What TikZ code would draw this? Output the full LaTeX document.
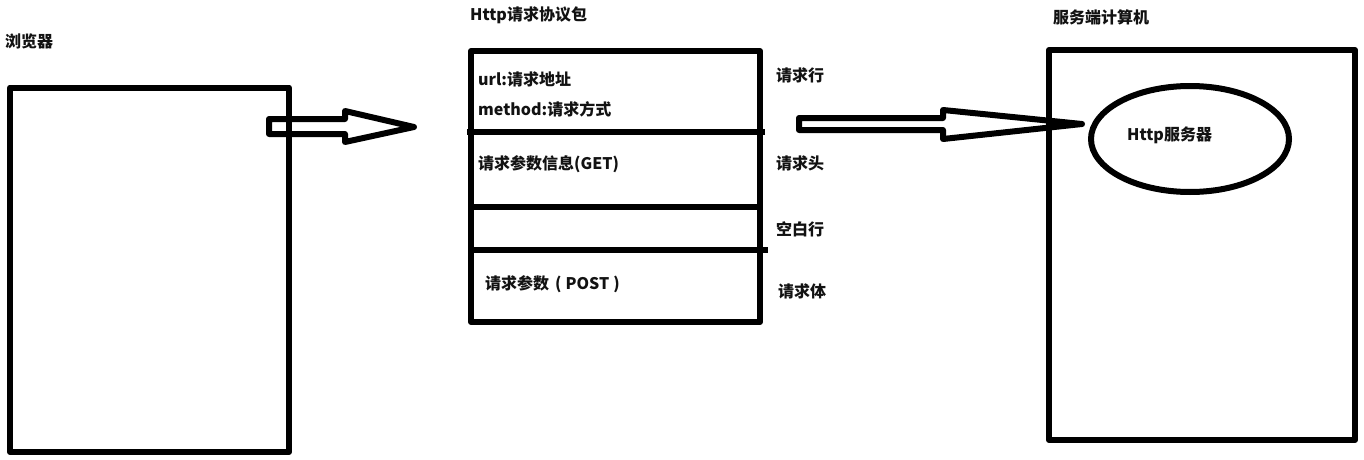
\documentclass[tikz,border=0pt]{standalone}
\usepackage{fontspec}
\newfontfamily\cjk{Noto Sans CJK SC}
\begin{document}
\begin{tikzpicture}[x=1pt,y=-1pt,
  thick line/.style={line width=6pt, line join=round, draw=black},
  lbl/.style={anchor=west, inner sep=0pt, font=\cjk\bfseries\fontsize{16}{18}\selectfont, text=black!93}]
\useasboundingbox[fill=white] (0,0) rectangle (1364,460);
% browser box
\draw[thick line] (10,87.5) rectangle (289,452);
\node[lbl] (browser) at (5,41) {浏览器};
% request packet box
\draw[thick line] (471,51) rectangle (760,322);
\coordinate (d1a) at (467,132); \coordinate (d1b) at (765,132);
\coordinate (d2a) at (471,207); \coordinate (d2b) at (760,207);
\coordinate (d3a) at (471,250); \coordinate (d3b) at (768,250);
\draw[thick line] (d1a) -- (d1b);
\draw[thick line] (d2a) -- (d2b);
\draw[thick line] (d3a) -- (d3b);
\node[lbl] (pkt) at (470,15) {Http请求协议包};
\node[lbl] (url) at (478,79) {url:请求地址};
\node[lbl] (method) at (478,109) {method:请求方式};
\node[lbl] (get) at (478,164) {请求参数信息(GET)};
\node[lbl] (post) at (485,284) {请求参数\hspace{6pt}(\hspace{4pt}POST\hspace{4pt})};
\node[lbl] (l1) at (776,75) {请求行};
\node[lbl] (l2) at (776,163) {请求头};
\node[lbl] (l3) at (776,229) {空白行};
\node[lbl] (l4) at (778,291) {请求体};
% server box
\draw[thick line] (1049,50) rectangle (1355,440);
\node[lbl] (srv) at (1053,17) {服务端计算机};
\draw[thick line] (1190,139) ellipse [x radius=99, y radius=53];
\node[lbl] (http) at (1127,135) {Http服务器};
% arrow 1
\draw[thick line] (269,119) -- (345,119) -- (345,111) -- (414,127) -- (345,142) -- (345,134) -- (269,134) -- cycle;
% arrow 2
\draw[thick line] (799,118) -- (943,118) -- (943,110) -- (1082,124) -- (943,139) -- (943,130) -- (799,130) -- cycle;
\end{tikzpicture}
\end{document}
